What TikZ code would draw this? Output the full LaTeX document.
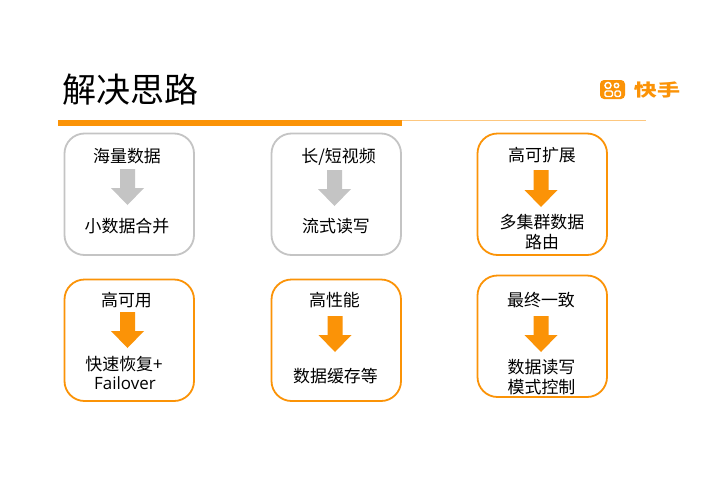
\documentclass[tikz,border=0pt]{standalone}
\usepackage{fontspec}
\setmainfont{Noto Sans CJK SC}
\newfontfamily\latinfont{Open Sans}
\definecolor{kwOrange}{HTML}{FB9307}
\definecolor{kwGray}{HTML}{C4C4C4}
\definecolor{kwLine}{HTML}{FDC77F}
\newcommand{\downshape}[4]{% center x, top y, base y of head, tip y
  (#1-7.5,#2) -- (#1+7.5,#2) -- (#1+7.5,#3) -- (#1+16.5,#3) -- (#1,#4) -- (#1-16.5,#3) -- (#1-7.5,#3) -- (#1-7.5,#2) -- cycle}
\tikzset{
  x=0.75pt,y=-0.75pt,
  box/.style={draw=#1,line width=1.35pt,rounded corners=15pt,fill=white},
  lbl/.style={font=\fontsize{12.7pt}{14.5pt}\selectfont,text=black,inner sep=0pt,align=center},
  flow/.style={fill=#1,draw=none},
}
\begin{document}
\begin{tikzpicture}
\useasboundingbox (0,0) rectangle (702,496);
\fill[white] (0,0) rectangle (702,496);
% title
\node[inner sep=0pt,text=black,font=\fontsize{25.5pt}{28pt}\selectfont] (title) at (130,90) {解决思路};
\fill[kwOrange] (58,120) rectangle (402,126);
\draw[kwLine,line width=0.75pt] (402,120.5) -- (646,120.5);
% logo
\fill[kwOrange,rounded corners=3pt] (600,80) rectangle (625,99);
\draw[white,line width=1.1pt] (608,85.5) circle (3);
\draw[white,line width=1.1pt] (616.5,85.5) circle (2.2);
\draw[white,line width=1.1pt,rounded corners=1pt] (605,91) rectangle (612.5,96.5);
\draw[white,line width=1.1pt,rounded corners=1pt] (615,91) rectangle (620.5,96.5);
\node[inner sep=0pt,text=kwOrange,font=\fontsize{12.8pt}{14pt}\bfseries\selectfont,xscale=1.35,transform shape] (logo) at (657,90) {快手};
% boxes
\draw[box=kwGray] (64.5,133.5) rectangle (194,255);
\draw[box=kwGray] (271.5,133.5) rectangle (401,255);
\draw[box=kwOrange] (477.5,133.5) rectangle (607,255);
\draw[box=kwOrange] (64.5,279.5) rectangle (194,401);
\draw[box=kwOrange] (271.5,279.5) rectangle (401,401);
\draw[box=kwOrange] (477.5,275.5) rectangle (607,397);
% arrows
\fill[flow=kwGray] \downshape{127.5}{169}{188}{205};
\fill[flow=kwGray] \downshape{334.5}{170}{189}{206};
\fill[flow=kwOrange] \downshape{541}{170}{190}{207};
\fill[flow=kwOrange] \downshape{127.5}{312}{331}{348};
\fill[flow=kwOrange] \downshape{335}{316}{335}{352};
\fill[flow=kwOrange] \downshape{541}{316}{335}{352};
% labels
\node[lbl] (a1) at (127,156) {海量数据};
\node[lbl] (a2) at (127,226) {小数据合并};
\node[lbl] (b1) at (338.5,157) {长/短视频};
\node[lbl] (b2) at (336,226) {流式读写};
\node[lbl] (c1) at (542,155) {高可扩展};
\node[lbl] (c2) at (542,222) {多集群数据};
\node[lbl] (c3) at (542,242) {路由};
\node[lbl] (d1) at (126.5,300) {高可用};
\node[lbl] (d2) at (124,364) {快速恢复+};
\node[lbl,font=\fontsize{12.7pt}{14.5pt}\latinfont] (d3) at (125,383) {Failover};
\node[lbl] (e1) at (334.5,300) {高性能};
\node[lbl] (e2) at (335.5,376) {数据缓存等};
\node[lbl] (f1) at (541,300) {最终一致};
\node[lbl] (f2) at (541.5,367.5) {数据读写};
\node[lbl] (f3) at (541.5,387.5) {模式控制};
\end{tikzpicture}
\end{document}
